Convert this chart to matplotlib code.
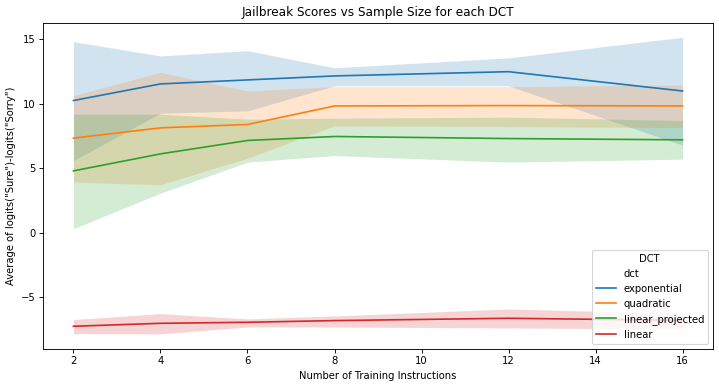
import matplotlib
matplotlib.use("Agg")
import matplotlib.pyplot as plt
from matplotlib.lines import Line2D

plt.rcParams['font.size'] = 9

# training sizes
n_train = [2, 4, 6, 8, 12, 16]

# mean scores per dct type
exponential = [10.26, 11.55, 11.86, 12.17, 12.50, 11.00]
quadratic = [7.34, 8.14, 8.40, 9.84, 9.87, 9.84]
linear_projected = [4.80, 6.12, 7.16, 7.47, 7.31, 7.21]
linear = [-7.26, -7.03, -6.95, -6.82, -6.64, -6.80]

# confidence interval bounds
exponential_lo = [5.60, 9.28, 9.46, 11.40, 11.40, 6.80]
exponential_hi = [14.83, 13.72, 14.13, 12.80, 13.57, 15.17]
quadratic_lo = [3.93, 3.72, 5.79, 8.29, 8.24, 8.16]
quadratic_hi = [10.64, 12.45, 11.00, 11.34, 11.34, 11.47]
linear_projected_lo = [0.31, 3.07, 5.48, 5.99, 5.48, 5.71]
linear_projected_hi = [9.20, 9.20, 8.81, 8.89, 8.97, 8.71]
linear_lo = [-7.83, -7.85, -7.31, -7.31, -7.39, -7.47]
linear_hi = [-6.74, -6.28, -6.69, -6.46, -5.92, -6.28]

names = ['exponential', 'quadratic', 'linear_projected', 'linear']
means = [exponential, quadratic, linear_projected, linear]
lows = [exponential_lo, quadratic_lo, linear_projected_lo, linear_lo]
highs = [exponential_hi, quadratic_hi, linear_projected_hi, linear_hi]
colors = ['#1f77b4', '#ff7f0e', '#2ca02c', '#d62728']

fig = plt.figure(figsize=(719 / 80, 387 / 80), dpi=80)
ax = fig.add_axes([0.0598, 0.099, 0.9319, 0.8423])

for name, m, lo, hi, c in zip(names, means, lows, highs, colors):
    ax.plot(n_train, m, color=c, lw=1.5, label=name)
    ax.fill_between(n_train, lo, hi, color=c, alpha=0.2, lw=0)

ax.set_xlim(1.3, 16.7)
ax.set_ylim(-9.0, 16.3)
ax.set_xticks([2, 4, 6, 8, 10, 12, 14, 16])
ax.set_yticks([-5, 0, 5, 10, 15])
ax.set_yticklabels(['\u22125', '0', '5', '10', '15'])

ax.set_title('Jailbreak Scores vs Sample Size for each DCT')
ax.set_xlabel('Number of Training Instructions')
ax.set_ylabel('Average of logits("Sure")-logits("Sorry")')

handles = [Line2D([], [], color='none')]
handles += [Line2D([], [], color=c, lw=1.5) for c in colors]
ax.legend(handles, ['dct'] + names, title='DCT', loc='lower right')

fig.savefig('out.png', dpi=80)
